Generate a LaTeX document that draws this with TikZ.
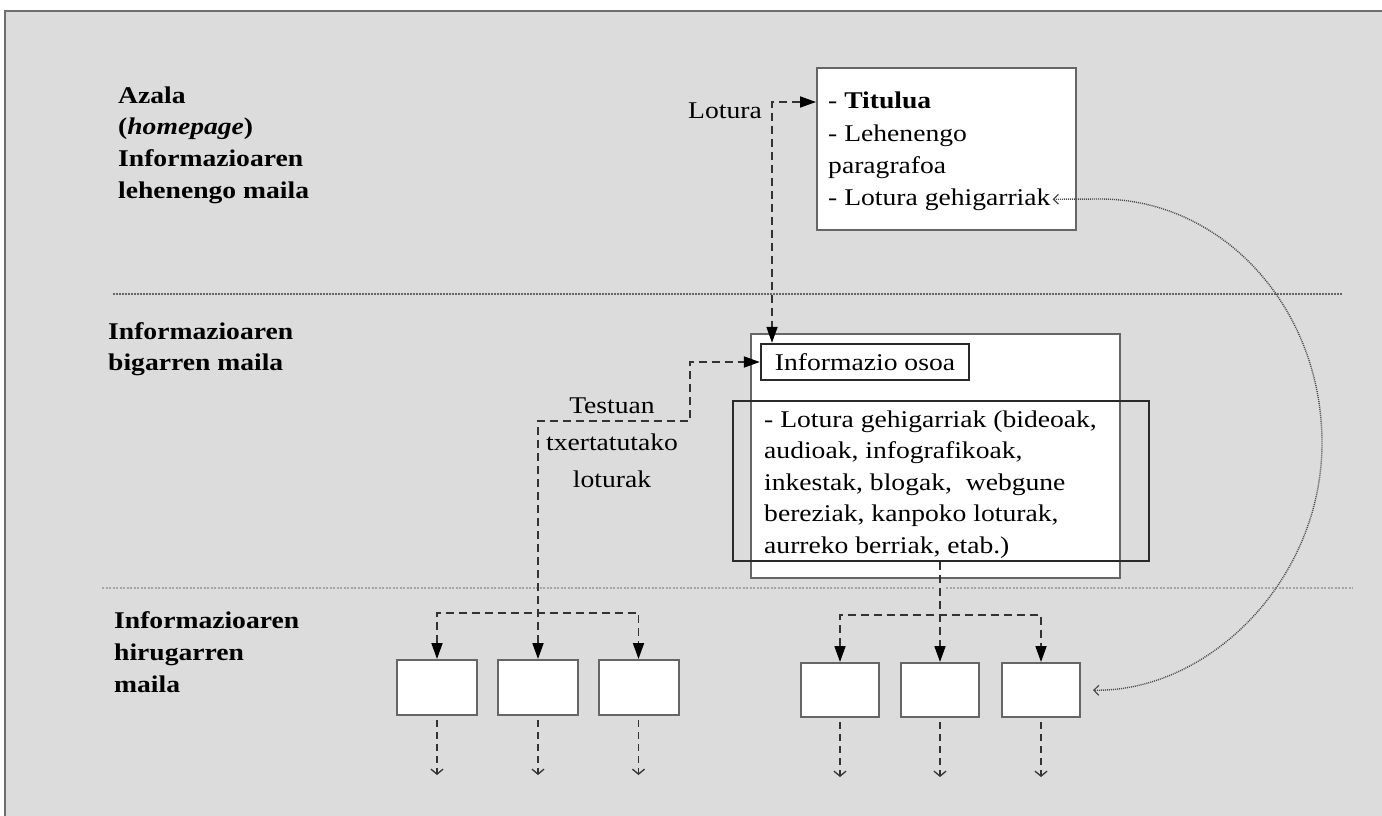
\documentclass[tikz,border=0pt]{standalone}
\usepackage{fontspec}
\setmainfont{Liberation Serif}[FakeStretch=1.15]
\usetikzlibrary{arrows.meta}
\definecolor{bgc}{HTML}{DCDCDC}
\definecolor{framec}{HTML}{6E6E6E}
\definecolor{boxc}{HTML}{666666}
\definecolor{darkc}{HTML}{2A2A2A}
\definecolor{conc}{HTML}{333333}
\tikzset{
  txt/.style={inner sep=0pt, anchor=base west, font=\fontsize{24}{31}\selectfont},
  btxt/.style={inner sep=0pt, anchor=base west, font=\fontsize{24}{31}\selectfont\bfseries},
  ctxt/.style={inner sep=0pt, anchor=base, font=\fontsize{24}{31}\selectfont},
  wbox/.style={draw=boxc, line width=2pt, fill=white, inner sep=0pt},
  dbox/.style={draw=darkc, line width=2.4pt, inner sep=0pt},
  sbox/.style={draw=boxc, line width=2pt, fill=white, inner sep=0pt, minimum width=80pt, minimum height=55pt},
  conn/.style={draw=conc, line width=1.8pt, dash pattern=on 8pt off 5pt},
  smallconn/.style={draw=conc, line width=1.4pt, dash pattern=on 7pt off 5pt, -{Straight Barb[length=5pt,width=12pt,line width=1.3pt]}},
  curv/.style={draw=black!70, line width=1.4pt, dash pattern=on 1pt off 1pt},
  sepA/.style={draw=black!60, line width=1.5pt, dash pattern=on 1.5pt off 1.5pt},
  sepB/.style={draw=black!35, line width=2pt, dash pattern=on 2pt off 1.5pt},
  >={Triangle[length=16pt,width=11pt,color=black]}
}
\begin{document}
\begin{tikzpicture}[x=1pt,y=-1pt]
\useasboundingbox (0,0) rectangle (1382,816);
\fill[white] (0,0) rectangle (1382,816);
\begin{scope}
\clip (0,0) rectangle (1382,816);
\fill[bgc] (5,11) rectangle (1400,830);
\draw[framec, line width=2.5pt] (5,830) -- (5,11) -- (1400,11);
\end{scope}

% level separators
\draw[sepA] (113,294) -- (1343,294);
\draw[sepB] (102,588) -- (934,588);
\draw[sepB] (946,588) -- (1353,588);

% level labels
\foreach \t [count=\i] in {Azala, {(\textit{homepage})}, Informazioaren, lehenengo maila}
  \node[btxt] (lvA\i) at (118,{103+31.7*(\i-1)}) {\t};
\foreach \t [count=\i] in {Informazioaren, bigarren maila}
  \node[btxt] (lvB\i) at (108,{339+31*(\i-1)}) {\t};
\foreach \t [count=\i] in {Informazioaren, hirugarren, maila}
  \node[btxt] (lvC\i) at (114,{628+32*(\i-1)}) {\t};

% first level box
\node[wbox, minimum width=259pt, minimum height=162pt] (lbox) at (946.5,149) {};
\node[txt] (lb1) at (828,109) {- \textbf{Titulua}};
\node[txt] (lb2) at (828,141) {- Lehenengo};
\node[txt] (lb3) at (828,173) {paragrafoa};
\node[txt] (lg) at (828,205) {- Lotura gehigarriak};
\node[txt, anchor=base east] (lot) at (762,118) {Lotura};

% second level
\node[wbox, minimum width=369pt, minimum height=244pt] (big) at (935.5,456) {};
\node[wbox, draw=darkc, line width=2.4pt, minimum width=208pt, minimum height=36pt, font=\fontsize{24}{31}\selectfont] (info) at (865,362) {Informazio osoa};
\node[dbox, minimum width=416pt, minimum height=160pt] (bbox) at (941,481) {};
\foreach \t [count=\i] in {{- Lotura gehigarriak (bideoak,}, {audioak, infografikoak,}, {inkestak, blogak,\ \ webgune}, {bereziak, kanpoko loturak,}, {aurreko berriak, etab.)}}
  \node[txt] (bt\i) at (764,{427+31.5*(\i-1)}) {\t};

\node[ctxt] (te1) at (612,413) {Testuan};
\node[ctxt] (te2) at (612,450) {txertatutako};
\node[ctxt] (te3) at (612,487) {loturak};

% third level boxes
\node[sbox] (l1) at (437,687.5) {};
\node[sbox] (l2) at (538,687.5) {};
\node[sbox] (l3) at (638.5,687.5) {};
\node[sbox, minimum width=78pt, minimum height=54pt] (r1) at (840,690) {};
\node[sbox, minimum width=78pt, minimum height=54pt] (r2) at (940,690) {};
\node[sbox, minimum width=78pt, minimum height=54pt] (r3) at (1041,690) {};

% connectors
\coordinate (lt) at (772,102);
\draw[conn, <->] (lbox.west |- lt) -- (lt) -- (lt |- info.north);

\coordinate (tb) at (538,421);
\coordinate (tc) at (690,421);
\coordinate (td) at (690,362);
\draw[conn, <->] (l2.north) -- (tb) -- (tc) -- (td) -- (info.west);

\coordinate (tj) at (538,613);
\draw[conn, <->] (l1.north) -- (tj -| l1.north) -- (tj -| l3.north) -- (l3.north);

\coordinate (rj) at (940,615);
\draw[conn, ->] (r2.north |- bbox.south) -- (r2.north);
\draw[conn, <->] (r1.north) -- (rj -| r1.north) -- (rj -| r3.north) -- (r3.north);

\foreach \n in {l1,l2,l3,r1,r2,r3}{
  \path (\n.south) ++(0,59) coordinate (\n e);
  \draw[smallconn, shorten <=4pt] (\n.south) -- (\n e);
}

\coordinate (ctop) at (1100,199);
\draw[curv, {Straight Barb[length=5pt,width=10pt,line width=1.2pt]}-{Straight Barb[length=5pt,width=10pt,line width=1.2pt]}, shorten <=2pt, shorten >=12pt]
  (lg.east) -- (ctop) .. controls (1223,199) and (1322,308) .. (1322,443)
  .. controls (1322,579) and (1210,692) .. (r3.east);
\end{tikzpicture}
\end{document}
